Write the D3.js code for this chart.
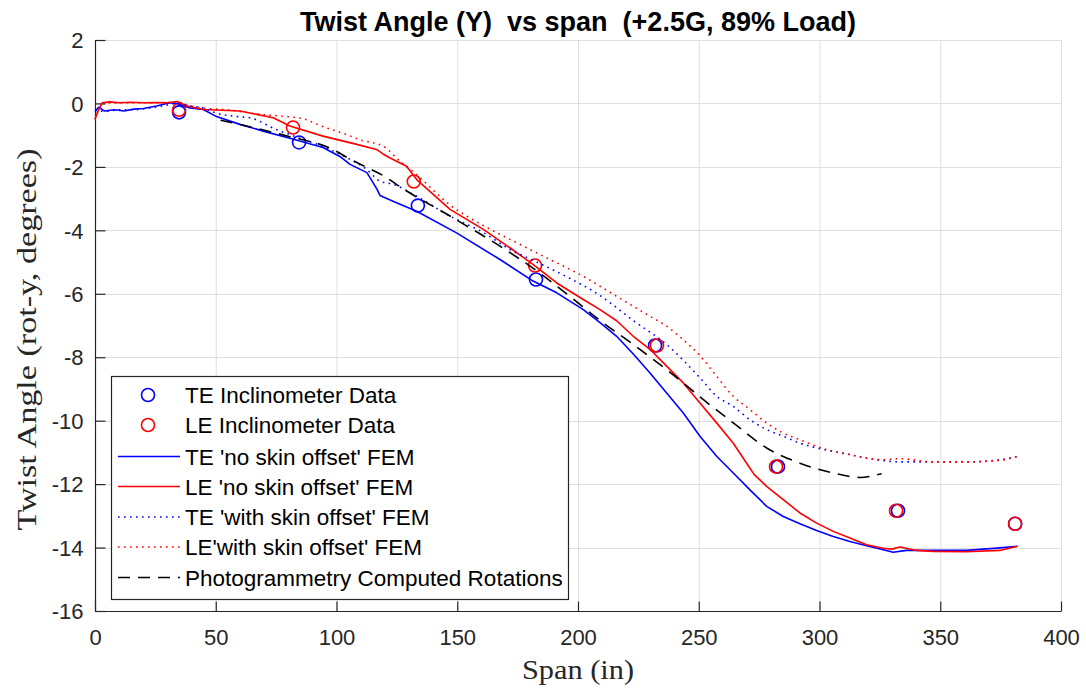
<!DOCTYPE html>
<html><head><meta charset="utf-8">
<script src="https://cdn.jsdelivr.net/npm/d3@7"></script>
<style>body{margin:0;background:#fff;} svg{display:block;}</style>
</head><body>
<script>
// ---------- data ----------
const xTicks = [0,50,100,150,200,250,300,350,400];
const yTicks = [2,0,-2,-4,-6,-8,-10,-12,-14,-16];

const teInclX = [34.8, 84.5, 133.7, 182.6, 231.9, 282.8, 332.5, 381];
const teInclY = [-0.28, -1.23, -3.22, -5.55, -7.63, -11.45, -12.84, -13.25];
const leInclX = [34.8, 82, 132, 182.2, 232.7, 282, 331.7, 381];
const leInclY = [-0.20, -0.76, -2.46, -5.11, -7.63, -11.45, -12.84, -13.25];

const teNoSkinX = [0,1.5,4,8,12,16,20,25.5,31,34,36,39.3,44.8,50,60,70,80.7,94.4,101.4,105.6,112.6,116.8,118,123.4,133.2,149.7,167.7,181.4,191.2,202.2,209,216,222.9,229.8,236.7,243.6,250.5,257.4,264.3,271.2,278.1,285,291.9,298.8,305.7,312.6,319.5,326.4,330.5,336,347,361,374.7,382];
const teNoSkinY = [-0.25,-0.12,-0.24,-0.2,-0.24,-0.18,-0.16,-0.08,0.02,0.0,-0.06,-0.14,-0.19,-0.4,-0.66,-0.88,-1.1,-1.39,-1.67,-1.92,-2.18,-2.71,-2.9,-3.08,-3.4,-4.08,-4.92,-5.6,-5.97,-6.5,-6.9,-7.34,-7.9,-8.5,-9.13,-9.76,-10.49,-11.12,-11.65,-12.18,-12.7,-13.02,-13.25,-13.46,-13.65,-13.81,-13.94,-14.07,-14.15,-14.09,-14.09,-14.09,-14.01,-13.96];

const leNoSkinX = [0,1.5,3,6,10,15,20,25,30,34,38,44.7,60,73.8,80.7,94.4,108.4,116.6,119.4,122,129,133.2,147,160.8,171.8,181.5,191.2,202.2,209.1,216,222.9,229.8,236.7,243.6,250.5,257.4,264.3,271.2,273,278.1,285,291.9,298.8,305.7,312.6,319.5,326.4,330,333.3,340.2,347.1,360.9,374.7,382];
const leNoSkinY = [-0.5,-0.2,0.02,0.05,0.02,0.04,0.02,0.03,0.02,0.06,-0.08,-0.19,-0.24,-0.45,-0.71,-1.03,-1.29,-1.45,-1.6,-1.71,-1.98,-2.4,-3.34,-3.97,-4.55,-5.08,-5.66,-6.18,-6.5,-6.85,-7.34,-7.75,-8.28,-8.81,-9.44,-10.07,-10.71,-11.5,-11.7,-12.07,-12.49,-12.91,-13.23,-13.49,-13.7,-13.91,-14.02,-14.05,-13.98,-14.09,-14.12,-14.13,-14.09,-13.96];

const teSkinX = [0,4,10,16,22,28,34,40,45,50,60,64,75,85,92,103,112,118,123.5,133,147,161,172,181.5,195,209,223,236.7,250.5,257.4,264.3,271.2,278.1,285,291.9,298.8,305.7,312.6,319.5,326.4,333.3,347,361,374.7,382];
const teSkinY = [-0.22,-0.25,-0.2,-0.2,-0.15,-0.08,0.0,-0.08,-0.15,-0.3,-0.42,-0.45,-0.82,-1.1,-1.29,-1.66,-2.05,-2.45,-2.55,-2.92,-3.55,-4.08,-4.61,-4.95,-5.45,-6.05,-6.85,-7.6,-8.65,-9.23,-9.55,-9.97,-10.28,-10.49,-10.71,-10.86,-10.97,-11.07,-11.18,-11.26,-11.3,-11.3,-11.3,-11.23,-11.13];

const leSkinX = [0,1.5,3,10,20,30,34,38,45,55,67,80,86,94,103,110,119.4,126,133.2,147,160.8,174.6,188.4,202.2,216,229.8,236.7,243.6,250.5,257.4,264.3,271.2,278.1,285,291.9,298.8,305.7,312.6,319.5,326.4,333.3,347,361,374.7,382];
const leSkinY = [-0.5,-0.2,0.0,0.02,0.02,0.03,0.05,-0.05,-0.15,-0.2,-0.33,-0.42,-0.48,-0.72,-0.95,-1.15,-1.35,-1.8,-2.25,-3.2,-3.85,-4.39,-4.92,-5.45,-6.08,-6.71,-7.02,-7.45,-7.95,-8.6,-9.23,-9.65,-10.07,-10.39,-10.6,-10.81,-10.97,-11.07,-11.18,-11.23,-11.2,-11.3,-11.3,-11.25,-11.13];

const photoX = [52,65,80.7,97,106,122,126,147,167.7,181.5,195.3,209.1,222.9,236.7,243.6,250.5,264.3,278.1,291.9,305.7,316.8,325.7];
const photoY = [-0.53,-0.75,-1.05,-1.4,-1.77,-2.4,-2.61,-3.55,-4.5,-5.2,-6.0,-6.84,-7.6,-8.39,-8.81,-9.25,-10.07,-10.86,-11.34,-11.65,-11.79,-11.67];

const legendLabels = ["TE Inclinometer Data","LE Inclinometer Data","TE 'no skin offset' FEM","LE 'no skin offset' FEM","TE 'with skin offset' FEM","LE'with skin offset' FEM","Photogrammetry Computed Rotations"];

// ---------- layout ----------
const W = 1086, H = 690;
const L = 95, R = 1061, T = 40, B = 611;
const sans = "'Liberation Sans', Arial, Helvetica, sans-serif";
const serif = "'Liberation Serif', 'DejaVu Serif', serif";

const svg = d3.select("body").append("svg").attr("width", W).attr("height", H);
const x = d3.scaleLinear().domain([0,400]).range([L,R]);
const y = d3.scaleLinear().domain([-16,2]).range([B,T]);

// grid
const grid = svg.append("g").attr("stroke","#dfdfdf").attr("stroke-width",1);
xTicks.forEach(t => { if (t>0) grid.append("line").attr("x1",x(t)+0.5).attr("x2",x(t)+0.5).attr("y1",T).attr("y2",B); });
yTicks.forEach(t => { if (t>-16) grid.append("line").attr("y1",Math.round(y(t))+0.5).attr("y2",Math.round(y(t))+0.5).attr("x1",L).attr("x2",R); });

// axes
const xAxis = d3.axisBottom(x).tickValues(xTicks).tickSize(-10).tickPadding(18).tickFormat(d3.format("d"));
const yAxis = d3.axisLeft(y).tickValues(yTicks).tickSize(-10).tickPadding(12).tickFormat(d => d3.format("d")(d).replace("−","-"));
const gx = svg.append("g").attr("transform",`translate(0,${B+0.5})`).call(xAxis);
const gy = svg.append("g").attr("transform",`translate(${L+0.5},0)`).call(yAxis);
[gx,gy].forEach(g => {
  g.select(".domain").attr("stroke","#262626").attr("stroke-width",1.2);
  g.selectAll(".tick line").attr("stroke","#262626").attr("stroke-width",1.2);
  g.selectAll(".tick text").attr("fill","#262626").style("font-family",sans).style("font-size","22px");
});
gy.selectAll(".tick text").attr("dy","0.35em");
gx.select(".domain").attr("d",`M${L},0H${R}`);
gy.select(".domain").attr("d",`M0,${B}V${T}`);

// circles
function circles(xs, ys, color){
  svg.append("g").selectAll("circle").data(xs.map((v,i)=>[v,ys[i]])).join("circle")
    .attr("cx",d=>x(d[0])).attr("cy",d=>y(d[1])).attr("r",6.5)
    .attr("fill","none").attr("stroke",color).attr("stroke-width",1.6);
}
circles(teInclX, teInclY, "#0000ff");
circles(leInclX, leInclY, "#ff0000");

// lines
const lineGen = d3.line().x(d=>x(d[0])).y(d=>y(d[1]));
function drawLine(xs, ys, color, dash, curve){
  const pts = xs.map((v,i)=>[v,ys[i]]);
  svg.append("path").attr("d", lineGen.curve(curve||d3.curveLinear)(pts))
    .attr("fill","none").attr("stroke",color).attr("stroke-width",1.6)
    .attr("stroke-dasharray",dash||null).attr("stroke-linejoin","round");
}
drawLine(teNoSkinX, teNoSkinY, "#0000ff");
drawLine(leNoSkinX, leNoSkinY, "#ff0000");
drawLine(teSkinX, teSkinY, "#0000ff", "1.6,4.4", d3.curveMonotoneX);
drawLine(leSkinX, leSkinY, "#ff0000", "1.6,4.4", d3.curveMonotoneX);
drawLine(photoX, photoY, "#000000", "12,8", d3.curveMonotoneX);

// title and labels
svg.append("text").attr("x",(L+R)/2).attr("y",31).attr("text-anchor","middle")
  .style("font-family",sans).style("font-size","27px").style("font-weight","bold").attr("fill","#000")
  .attr("xml:space","preserve").style("white-space","pre")
  .text("Twist Angle (Y)  vs span  (+2.5G, 89% Load)");
svg.append("text").attr("x",(L+R)/2).attr("y",679).attr("text-anchor","middle")
  .style("font-family",serif).style("font-size","28px").attr("fill","#262626")
  .attr("textLength",112).attr("lengthAdjust","spacingAndGlyphs").text("Span (in)");
svg.append("text").attr("transform",`translate(36,${(T+B)/2+14}) rotate(-90)`).attr("text-anchor","middle")
  .style("font-family",serif).style("font-size","27px").attr("fill","#262626")
  .attr("textLength",382).attr("lengthAdjust","spacingAndGlyphs")
  .text("Twist Angle (rot-y, degrees)");

// legend
const lg = svg.append("g");
lg.append("rect").attr("x",111.5).attr("y",376.5).attr("width",457).attr("height",223)
  .attr("fill","#fff").attr("stroke","#262626").attr("stroke-width",1.2);
const rowY = [395,425,456.5,486.5,517,547,577.5];
const styles = [
  {type:"c", color:"#0000ff"},{type:"c", color:"#ff0000"},
  {type:"l", color:"#0000ff"},{type:"l", color:"#ff0000"},
  {type:"l", color:"#0000ff", dash:"1.6,4.4"},{type:"l", color:"#ff0000", dash:"1.6,4.4"},
  {type:"l", color:"#000", dash:"12,8"}];
legendLabels.forEach((lab,i)=>{
  const s = styles[i], yy = rowY[i];
  if (s.type==="c") lg.append("circle").attr("cx",148).attr("cy",yy).attr("r",6.5).attr("fill","none").attr("stroke",s.color).attr("stroke-width",1.6);
  else lg.append("line").attr("x1",118).attr("x2",180).attr("y1",yy).attr("y2",yy).attr("stroke",s.color).attr("stroke-width",1.6).attr("stroke-dasharray",s.dash||null);
  lg.append("text").attr("x",185).attr("y",yy).attr("dy","0.36em").style("font-family",sans).style("font-size","22.5px").attr("fill","#000").text(lab);
});
</script>
</body></html>
